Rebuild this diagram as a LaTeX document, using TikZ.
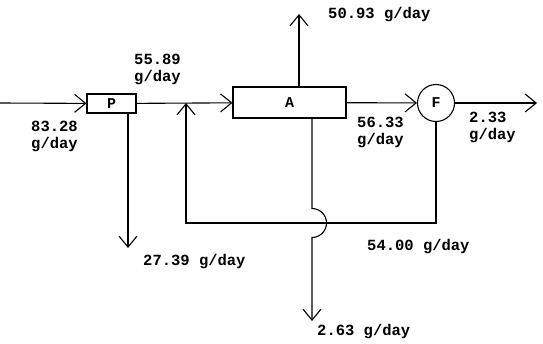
\documentclass[tikz,border=0pt]{standalone}
\usepackage{fontspec}
\setmonofont{Liberation Mono}
\usetikzlibrary{arrows.meta,positioning,calc}
\tikzset{
  unit/.style={draw,line width=1.1pt,inner sep=0pt,
               font=\ttfamily\bfseries\fontsize{15}{15}\selectfont},
  rate/.style={font=\ttfamily\bfseries\fontsize{15.5}{17}\selectfont,
               align=left,inner sep=0pt,anchor=west}
}

\begin{document}
\begin{tikzpicture}[x=1pt,y=-1pt]
  \useasboundingbox (0,0) rectangle (543,343);
  % Units
  \node[unit,minimum width=49pt,minimum height=19pt] (P) at (111.5,103.5) {P};
  \node[unit,minimum width=113pt,minimum height=31pt] (A) at (289.5,102.5) {A};
  \node[unit,circle,minimum size=37pt] (F) at (436,103) {F};
  % Stream ends
  \coordinate (feed) at (0,103);
  \coordinate (mix) at (186,103);
  \coordinate (vent) at (299,14);
  \coordinate (drain) at (312,321);
  \coordinate (purge) at (128,248);
  \coordinate (prod) at (537,103);
  \coordinate (rc) at (186,223);
  % Streams
  \draw[line width=1.1pt,-{Straight Barb[length=11pt,width=18pt]}] (feed) -- (P);
  \draw[line width=1.1pt,-{Straight Barb[length=11pt,width=18pt]}] (P) -- (A);
  \draw[line width=1.1pt,-{Straight Barb[length=11pt,width=18pt]}] (P.south -| purge) -- (purge);
  \draw[line width=1.1pt,-{Straight Barb[length=11pt,width=18pt]}] (A.north -| vent) -- (vent);
  \draw[line width=1.1pt,-{Straight Barb[length=11pt,width=18pt]}] (A) -- (F);
  \draw[line width=1.1pt,-{Straight Barb[length=11pt,width=18pt]}] (F) -- (prod);
  \draw[line width=1.1pt,-{Straight Barb[length=11pt,width=18pt]}] (F.south) |- (rc) -- (mix);
  \draw[line width=1.1pt,-{Straight Barb[length=11pt,width=18pt]}] (A.south -| drain)
    -- ($(rc -| drain)+(0,-14.5)$)
    arc[start angle=-90,end angle=90,radius=14.5] -- (drain);
  % Rates
  \node[rate] (r1) at (31,136) {83.28\\g/day};
  \node[rate] (r2) at (134,69) {55.89\\g/day};
  \node[rate] (r3) at (328,15) {50.93 g/day};
  \node[rate] (r4) at (357,132) {56.33\\g/day};
  \node[rate] (r5) at (469,127) {2.33\\g/day};
  \node[rate] (r6) at (143,262) {27.39 g/day};
  \node[rate] (r7) at (367,247) {54.00 g/day};
  \node[rate] (r8) at (317,332) {2.63 g/day};
\end{tikzpicture}
\end{document}
